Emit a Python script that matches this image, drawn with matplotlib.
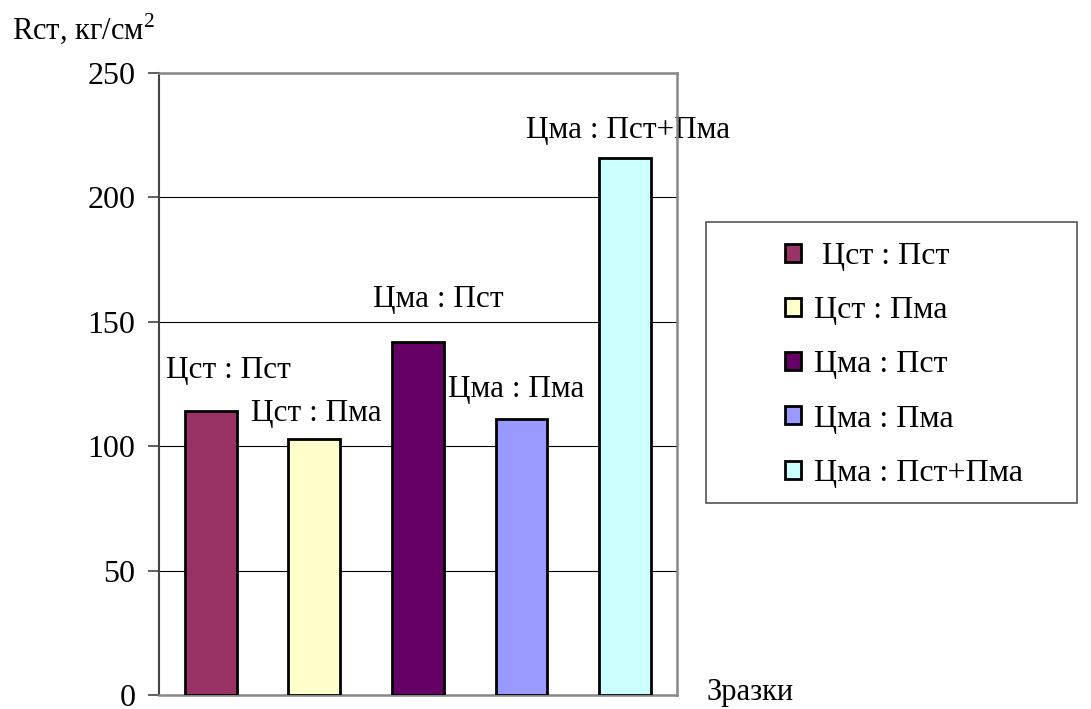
import matplotlib
matplotlib.use('Agg')
import matplotlib.pyplot as plt
from matplotlib.patches import Patch, Rectangle

plt.rcParams['font.family'] = ['Liberation Serif', 'DejaVu Serif']
plt.rcParams['mathtext.fontset'] = 'custom'
plt.rcParams['mathtext.rm'] = 'Liberation Serif'

# дані
categories = ['Цст : Пст', 'Цст : Пма', 'Цма : Пст', 'Цма : Пма', 'Цма : Пст+Пма']
values = [114, 103, 142, 111, 216]
colors = ['#993366', '#FFFFCC', '#660066', '#9999FF', '#CCFFFF']
yticks = [0, 50, 100, 150, 200, 250]

# положення підписів над стовпцями (дані)
label_x = [0.17, 1.02, 2.2, 2.95, 4.03]
label_y = [130.6, 113.3, 158.8, 122.6, 227]

fig = plt.figure(figsize=(10.91, 7.09), dpi=100)
ax = fig.add_axes([0.1457, 0.01975, 0.4748, 0.8773])

x = range(len(values))
ax.bar(x, values, width=0.5, color=colors, edgecolor='black', linewidth=2, zorder=3)

for xi, yi, t in zip(label_x, label_y, categories):
    ax.text(xi, yi, t, ha='center', va='center', fontsize=22.5, zorder=4)

ax.set_xlim(-0.5, 4.5)
ax.set_ylim(0, 250)
ax.set_yticks(yticks)
ax.set_xticks([])
ax.yaxis.grid(True, color='black', linewidth=0.8, zorder=0)
ax.tick_params(axis='y', labelsize=23, length=8, width=1.2, color='#444444', pad=9)
for s in ['top', 'right', 'bottom']:
    ax.spines[s].set_color('#888888')
    ax.spines[s].set_linewidth(1.8)
ax.spines['left'].set_color('#444444')
ax.spines['left'].set_linewidth(1.5)
ax.spines['top'].set_zorder(5)
ax.spines['right'].set_zorder(5)

fig.text(0.011, 1 - 39 / 709, r'Rст, кг/см$^2$', fontsize=22, va='baseline', ha='left')
fig.text(707 / 1091, 1 - 700 / 709, 'Зразки', fontsize=22, va='baseline', ha='left')

# рамка легенди
fig.patches.append(Rectangle((706 / 1091, 1 - 503 / 709), 371 / 1091, 281 / 709,
                             transform=fig.transFigure, facecolor='white',
                             edgecolor='#555555', linewidth=1.2))

handles = [Patch(facecolor=c, edgecolor='black', linewidth=2) for c in colors]
leg_labels = [' ' + categories[0]] + categories[1:]
leg = fig.legend(handles, leg_labels, loc='upper left', bbox_to_anchor=(785 / 1091, 1 - 242 / 709),
                 fontsize=23, frameon=False,
                 handlelength=0.5, handleheight=0.5, handletextpad=0.4,
                 labelspacing=0.79, borderpad=0, borderaxespad=0)

fig.savefig('out.png', dpi=100)
